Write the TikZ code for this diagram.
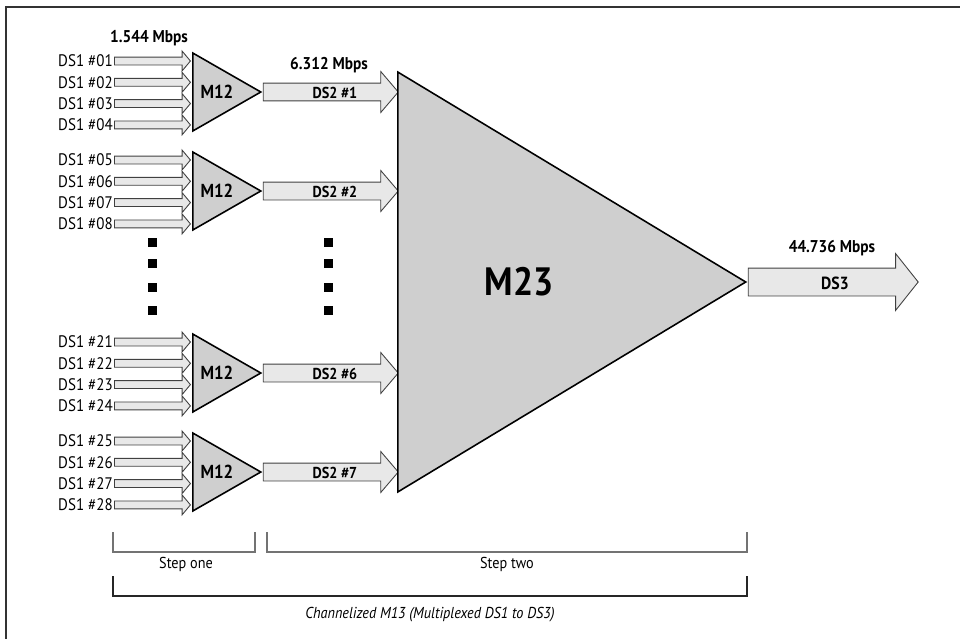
\documentclass[tikz,border=0pt]{standalone}
\usepackage{fontspec}
\setmainfont{PT Sans}[FakeStretch=0.9]
\usetikzlibrary{shapes.geometric,shapes.arrows,positioning,calc}

\begin{document}
\begin{tikzpicture}[x=0.02cm,y=-0.02cm]
      \tikzstyle{mux}=[isosceles triangle,isosceles triangle stretches,draw=black,line width=0.9pt,fill=black!19,inner sep=0pt,minimum width=1.56cm,minimum height=1.36cm,font=\fontsize{10.7}{12}\selectfont\bfseries]
      \tikzstyle{inlabel}=[inner sep=0.5pt,font=\fontsize{9.5}{11}\selectfont]
      \tikzstyle{rate}=[inner sep=0pt,font=\fontsize{9.7}{11}\selectfont\bfseries]
      \tikzstyle{steplabel}=[inner sep=0pt,font=\fontsize{9}{11}\selectfont]
      \tikzstyle{arrowtext}=[inner sep=0pt,anchor=base,font=\fontsize{9}{10}\selectfont\bfseries]
      \tikzstyle{inarrow}=[single arrow,draw=black!75,fill=black!9,line width=0.5pt,inner sep=0pt,text height=0.14cm,text depth=0pt,minimum height=1.52cm,single arrow head extend=0.12cm,single arrow tip angle=100]
      \tikzstyle{midarrow}=[single arrow,draw=black!75,fill=black!9,line width=0.5pt,inner sep=0pt,text height=0.34cm,text depth=0pt,minimum height=2.7cm,single arrow head extend=0.23cm,single arrow tip angle=99]
      \tikzstyle{bigarrow}=[single arrow,draw=black!75,fill=black!9,line width=0.5pt,inner sep=0pt,text height=0.54cm,text depth=0pt,minimum height=3.4cm,single arrow head extend=0.29cm,single arrow tip angle=103]
      \useasboundingbox (0,0) rectangle (960,639);
      \draw[line width=1pt,black!80] (960,7) -- (6,7) -- (6,639);
      \foreach \g/\y/\n/\m in {1/61/1/1,2/160/5/2,3/342/21/6,4/441/25/7} {
        \foreach \k in {0,...,3} {
          \pgfmathtruncatemacro\num{\n+\k}
          \node[inlabel,anchor=east] (ds1-\num) at (114,\y+\k*21.3) {DS1 \#\ifnum\num<10 0\fi\num};
          \node[inarrow,right=0pt of ds1-\num] (in-\num) {};
        }
        \node[mux,anchor=lower side] (m12-\g) at (192,\y+31) {M12};
        \node[midarrow,anchor=tail] (ds2-\g) at (m12-\g.apex) {};
        \node[arrowtext,yshift=-0.13cm] (ds2txt-\g) at ($(ds2-\g.tail)!0.53!(ds2-\g.tip)$) {DS2 \#\m};
      }
      \node[rate] (r1) at (149,38) {1.544 Mbps};
      \node[rate] (r2) at (329,65) {6.312 Mbps};
      \foreach \x in {152,328}
        \foreach \y in {242,263,287,310}
          \fill (\x-4.5,\y-4.5) rectangle ++(9,9);
      \node[mux,minimum width=8.4cm,minimum height=6.96cm,anchor=lower side,font=\fontsize{22.5}{24}\selectfont\bfseries] (m23) at (397,282) {M23};
      \node[bigarrow,anchor=tail] (ds3) at (m23.apex) {};
      \node[arrowtext,yshift=-0.15cm,font=\fontsize{10}{11}\selectfont\bfseries] (ds3txt) at ($(ds3.tail)!0.51!(ds3.tip)$) {DS3};
      \node[rate] (r3) at (832,248) {44.736 Mbps};
      \draw[black!55,line width=0.8pt] (113,532) |- (255,552) -- (255,532);
      \draw[black!55,line width=0.8pt] (267,532) |- (747,552) -- (747,532);
      \draw[black!85,line width=0.7pt] (113,576) |- (747,596) -- (747,576);
      \node[steplabel] (s1) at (186,564) {Step one};
      \node[steplabel] (s2) at (507,564) {Step two};
      \node[steplabel,font=\fontsize{9}{11}\selectfont\itshape] (s3) at (430,615) {Channelized M13 (Multiplexed DS1 to DS3)};
    \end{tikzpicture}
\end{document}
